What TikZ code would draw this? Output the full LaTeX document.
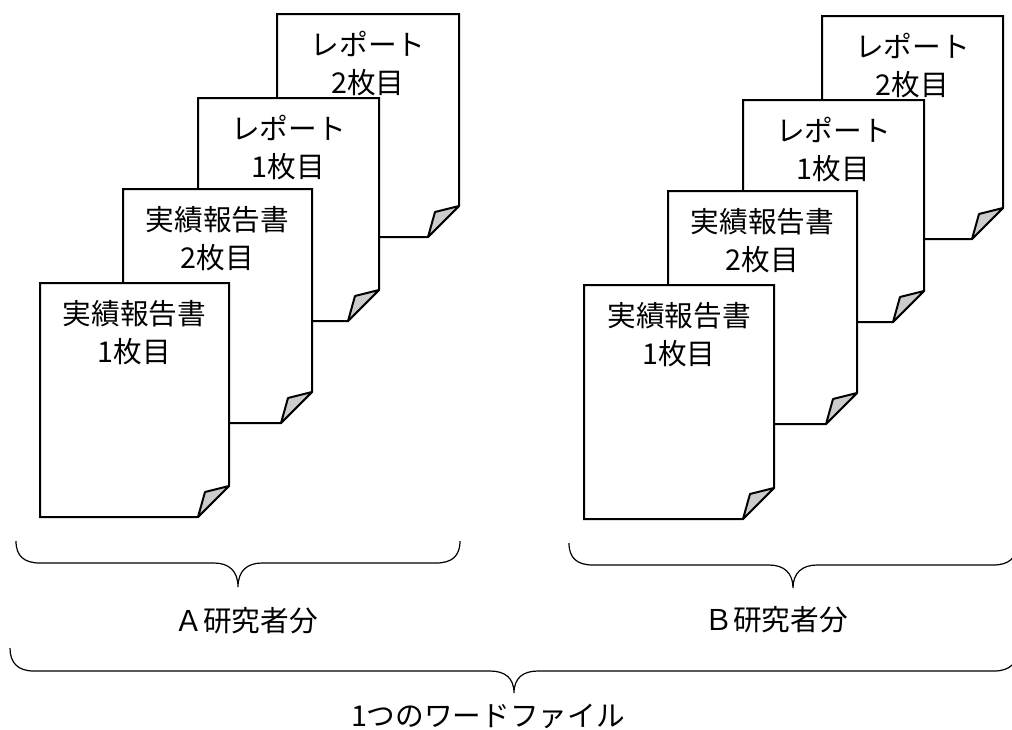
\documentclass[tikz,border=0pt]{standalone}
\usepackage{fontspec}
\newfontfamily\jp{Noto Sans CJK JP}
\begin{document}
\begin{tikzpicture}[x=0.75pt,y=-0.75pt,
  sheet/.style={draw=black,line width=1.5pt,fill=white,line join=miter},
  flap/.style={draw=black,line width=1.5pt,fill=gray!40,line join=round},
  sheettext/.style={font=\jp\fontsize{21.5}{28.9}\selectfont,align=center,inner sep=0pt},
  bracepath/.style={draw=black,line width=0.9pt},
  label/.style={font=\jp\fontsize{21.5}{28.9}\selectfont,inner sep=0pt}]
\useasboundingbox (0,0) rectangle (1012,729);
\newcommand{\paper}[7]{%
  \path[sheet] (#2,#3) -- (#4,#3) -- (#4,#5-31) -- (#4-31,#5) -- (#2,#5) -- cycle;
  \path[flap] (#4,#5-31) -- (#4-24,#5-25) -- (#4-31,#5) -- cycle;
  \node[sheettext] (#1) at ({(#2+#4)/2},#3+49.5) {#6\\#7};}
% left group
\paper{a4}{277}{14}{459}{237}{レポート}{2枚目}
\paper{a3}{198}{98}{379}{321}{レポート}{1枚目}
\paper{a2}{123}{189}{312}{423}{実績報告書}{2枚目}
\paper{a1}{40}{283}{229}{517}{実績報告書}{1枚目}
% right group
\paper{b4}{822}{16}{1003}{239}{レポート}{2枚目}
\paper{b3}{743}{100}{924}{322}{レポート}{1枚目}
\paper{b2}{668}{191}{857}{424}{実績報告書}{2枚目}
\paper{b1}{584}{285}{774}{519}{実績報告書}{1枚目}
% braces
\begin{scope}
\clip (0,0) rectangle (1012,729);
\path[bracepath] (16,541) .. controls (16,556) and (24,563) .. (40,563) -- (214,563)
  .. controls (229,563) and (238,571) .. (238,587)
  .. controls (238,571) and (247,563) .. (262,563) -- (436,563)
  .. controls (452,563) and (460,556) .. (460,541);
\path[bracepath] (569,543) .. controls (569,558) and (577,565) .. (593,565) -- (769,565)
  .. controls (784,565) and (793,573) .. (793,588)
  .. controls (793,573) and (802,565) .. (817,565) -- (993,565)
  .. controls (1009,565) and (1017,558) .. (1017,543);
\path[bracepath] (10,648) .. controls (10,663) and (18,671) .. (34,671) -- (490,671)
  .. controls (505,671) and (514,678) .. (514,693)
  .. controls (514,678) and (523,671) .. (538,671) -- (994,671)
  .. controls (1010,671) and (1018,663) .. (1018,648);
\end{scope}
\node[label] (la) at (246,621) {Ａ研究者分};
\node[label] (lb) at (776,620) {Ｂ研究者分};
\node[label] (lall) at (488,716) {1つのワードファイル};
\end{tikzpicture}
\end{document}
